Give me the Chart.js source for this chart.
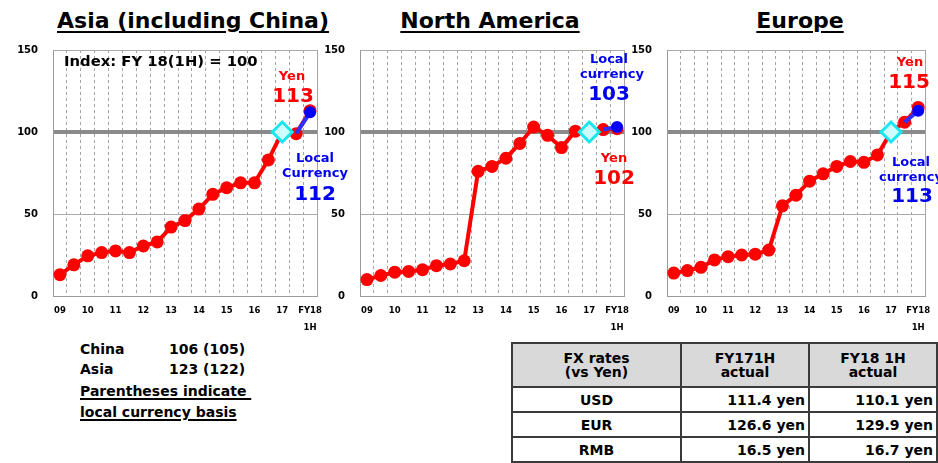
<!DOCTYPE html>
<html lang="en">
<head>
<meta charset="UTF-8">
<title>Sales index by region</title>
<script src="https://cdn.jsdelivr.net/npm/chart.js"></script>
<style>
  body { margin: 0; background: #fff; }
  #page {
    position: relative; width: 938px; height: 463px; overflow: hidden;
    font-family: "DejaVu Sans", sans-serif; font-weight: bold; color: #000;
  }
  .title {
    position: absolute; top: 10px; font-size: 22px; line-height: 22px;
    text-decoration: underline; text-decoration-thickness: 2px; text-underline-offset: 3px;
    transform: translateX(-50%); white-space: nowrap;
  }
  canvas { position: absolute; top: 29px; }
  .note { position: absolute; transform: translate(-50%, -50%); white-space: nowrap; line-height: 1; }
  .note.left { transform: translateY(-50%); }
  .side { position: absolute; font-size: 14px; line-height: 1; white-space: nowrap; transform: translateY(-50%); }
  .side.u { text-decoration: underline; text-decoration-thickness: 1.5px; text-underline-offset: 2px; }
  #fx {
    position: absolute; left: 511px; top: 342px; border-collapse: collapse; table-layout: fixed;
    font-size: 14px; line-height: 14px;
  }
  #fx td { border: 2px solid #3a3a3a; padding: 0 3px; height: 23px; white-space: nowrap; }
  #fx tr.head td { background: #d9d9d9; height: 42px; text-align: center; }
  #fx td.code { text-align: center; }
  #fx td.val { text-align: right; }
</style>
</head>
<body>
<div id="page">
  <div class="title" style="left:193px">Asia (including China)</div>
  <div class="title" style="left:490px">North America</div>
  <div class="title" style="left:800px">Europe</div>

  <canvas id="asia" width="330" height="311" style="left:0px"></canvas>
  <canvas id="namerica" width="330" height="311" style="left:307px"></canvas>
  <canvas id="europe" width="324" height="311" style="left:614px"></canvas>

  <table id="fx">
    <colgroup><col style="width:169px"><col style="width:128px"><col style="width:128px"></colgroup>
    <tbody id="fxBody">
      <tr class="head"><td>FX rates<br>(vs Yen)</td><td>FY171H<br>actual</td><td>FY18 1H<br>actual</td></tr>
    </tbody>
  </table>
</div>

<script>
  // half-year periods, FY09 .. FY18 1H
  const periods = ['09', '', '10', '', '11', '', '12', '', '13', '', '14', '', '15', '', '16', '', '17', '', ['FY18', '1H']];
  const yTicks = [0, 50, 100, 150];
  const baseIndex = 16;      // point that is indexed to 100
  const baseValue = 100;

  // index values, yen basis
  const asiaYen   = [13, 19, 24.5, 26.5, 27.5, 26.5, 30.5, 33, 42, 46, 53, 62, 66, 69, 69, 83, 100, 99, 113];
  const naYen     = [10, 12.5, 14.5, 15, 16, 18.5, 19.5, 21.5, 76, 79, 84, 93, 103, 98, 90.5, 100.5, 100, 101.5, 102];
  const europeYen = [14, 15.5, 17.5, 22, 24, 25, 25.5, 28, 55, 61.5, 70, 74.5, 79, 82, 81.5, 86, 100, 106, 115];

  // latest half, local currency basis
  const asiaLocal = 112;
  const naLocal = 103;
  const europeLocal = 113;

  // notes under the Asia panel
  const noteRegions = ['China', 'Asia'];
  const noteYen = [106, 123];
  const noteLocal = [105, 122];

  // FX table
  const fxCodes = ['USD', 'EUR', 'RMB'];
  const fxPrev = [111.4, 126.6, 16.5];
  const fxNow = [110.1, 129.9, 16.7];

  const RED = '#ff0000';
  const BLUE = '#0000f0';
  const FONT = 'DejaVu Sans';

  function makePanel(id, yen, local, padRight) {
    const last = yen.length - 1;
    const localLine = yen.map((v, i) => i === last ? local : (i === last - 1 ? v : null));
    const base = yen.map((v, i) => i === baseIndex ? baseValue : null);

    return new Chart(document.getElementById(id), {
      type: 'line',
      data: {
        labels: periods,
        datasets: [
          {
            data: base,
            showLine: false,
            pointStyle: 'rectRot',
            pointRadius: 10,
            pointBorderWidth: 3,
            pointBorderColor: '#19e6ee',
            pointBackgroundColor: '#ccffff',
            order: 0
          },
          {
            data: localLine,
            borderColor: '#2f2fff',
            borderWidth: 4,
            pointRadius: c => c.dataIndex === last ? 6 : 0,
            pointBackgroundColor: '#0000ff',
            pointBorderWidth: 0,
            order: 1
          },
          {
            data: yen,
            borderColor: RED,
            borderWidth: 4,
            pointRadius: c => c.dataIndex === baseIndex ? 0 : 6.5,
            pointBackgroundColor: RED,
            pointBorderWidth: 0,
            order: 2
          }
        ]
      },
      options: {
        responsive: false,
        animation: false,
        events: [],
        layout: { padding: { top: 9, right: padRight, left: 0, bottom: 0 } },
        plugins: { legend: { display: false }, tooltip: { enabled: false } },
        scales: {
          x: {
            offset: true,
            grid: { offset: true, color: '#a3a3a3', lineWidth: 1, drawTicks: false },
            border: {
              color: '#9a9a9a',
              dash: c => (c.index === undefined || c.index === 0) ? [] : [3, 3]
            },
            ticks: {
              autoSkip: false, maxRotation: 0, padding: 6, color: '#000',
              font: { family: FONT, weight: 'bold', size: 8.5, lineHeight: 2 }
            },
            afterFit: s => { s.height = 44; }
          },
          y: {
            min: 0, max: 150,
            afterBuildTicks: s => { s.ticks = yTicks.map(v => ({ value: v })); },
            grid: {
              drawTicks: false,
              color: c => c.tick && c.tick.value === 100 ? '#8a8a8a' : '#aaaaaa',
              lineWidth: c => c.tick && c.tick.value === 100 ? 4 : 1
            },
            border: { color: '#9a9a9a' },
            ticks: {
              padding: 15, color: '#000',
              font: { family: FONT, weight: 'bold', size: 10 }
            },
            afterFit: s => { s.width = 53; }
          }
        }
      }
    });
  }

  makePanel('asia', asiaYen, asiaLocal, 9);
  makePanel('namerica', naYen, naLocal, 11);
  makePanel('europe', europeYen, europeLocal, 6);

  const page = document.getElementById('page');

  function note(x, y, text, size, color, cls) {
    const d = document.createElement('div');
    d.className = cls ? 'note ' + cls : 'note';
    d.style.left = x + 'px';
    d.style.top = y + 'px';
    d.style.fontSize = size + 'px';
    d.style.color = color;
    d.textContent = text;
    page.appendChild(d);
  }

  const lastOf = a => a[a.length - 1];

  note(64, 61, 'Index: FY 18(1H) = 100', 14.8, '#000', 'left');

  // Asia
  note(292, 75, 'Yen', 13, RED);
  note(293, 95, String(lastOf(asiaYen)), 20, RED);
  note(315, 157, 'Local', 13, BLUE);
  note(315, 172, 'Currency', 13, BLUE);
  note(315, 193, String(asiaLocal), 20, BLUE);

  // North America
  note(609, 58, 'Local', 13, BLUE);
  note(612, 73, 'currency', 13, BLUE);
  note(609, 93, String(naLocal), 20, BLUE);
  note(614, 157, 'Yen', 13, RED);
  note(614, 177, String(lastOf(naYen)), 20, RED);

  // Europe
  note(910, 61, 'Yen', 13, RED);
  note(909, 81, String(lastOf(europeYen)), 20, RED);
  note(911, 161, 'Local', 13, BLUE);
  note(911, 176, 'currency', 13, BLUE);
  note(912, 195, String(europeLocal), 20, BLUE);

  function side(x, y, text, underline) {
    const d = document.createElement('div');
    d.className = underline ? 'side u' : 'side';
    d.style.left = x + 'px';
    d.style.top = y + 'px';
    d.textContent = text;
    page.appendChild(d);
  }

  noteRegions.forEach((r, i) => {
    const y = 349 + i * 20;
    side(80, y, r, false);
    side(169, y, `${noteYen[i]} (${noteLocal[i]})`, false);
  });
  side(80, 391, 'Parentheses indicate\u00a0', true);
  side(80, 412, 'local currency basis', true);

  const body = document.getElementById('fxBody');
  fxCodes.forEach((code, i) => {
    const tr = document.createElement('tr');
    tr.innerHTML = `<td class="code">${code}</td>` +
      `<td class="val">${fxPrev[i].toFixed(1)} yen</td>` +
      `<td class="val">${fxNow[i].toFixed(1)} yen</td>`;
    body.appendChild(tr);
  });
</script>
</body>
</html>
